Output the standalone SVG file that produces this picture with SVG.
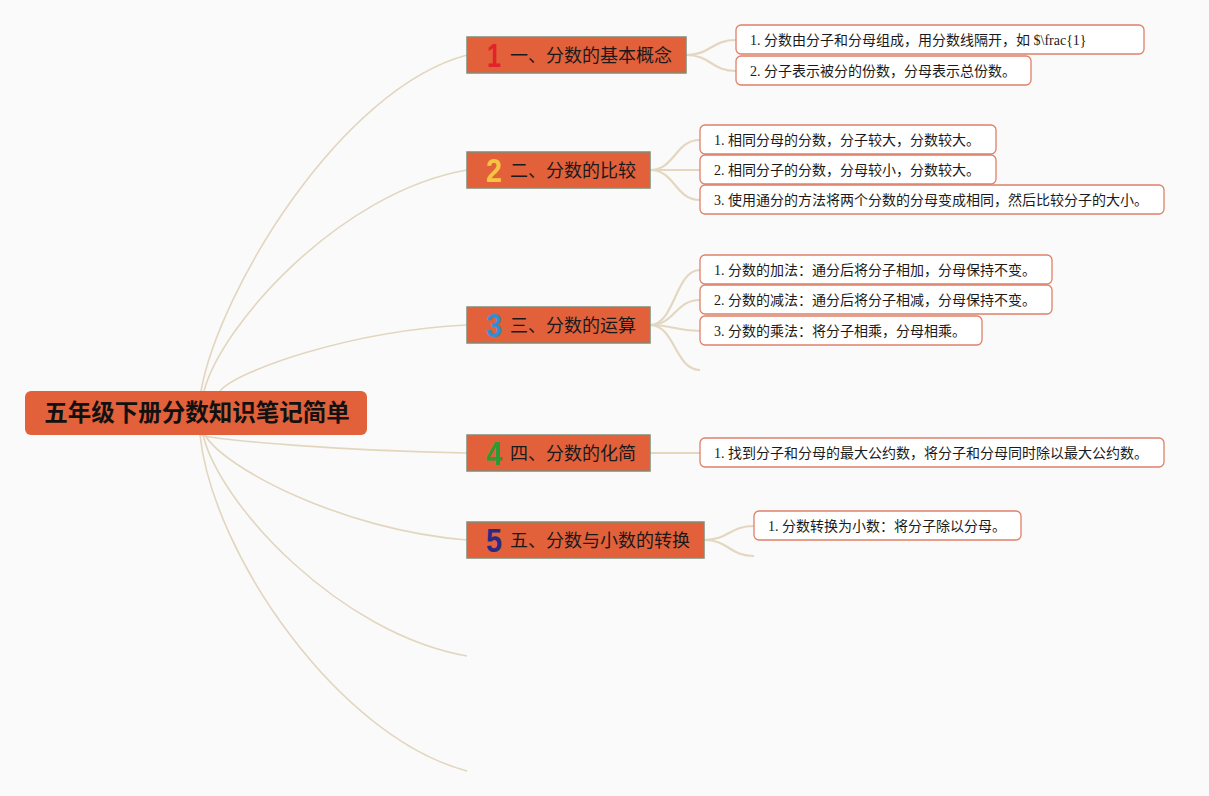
<svg xmlns="http://www.w3.org/2000/svg" width="1209" height="796" viewBox="0 0 1209 796">
<style>
.bg{fill:#fafafa}
.main{fill:none;stroke:#e2d6bf;stroke-width:1.6}
.sub{fill:none;stroke:#e3d7c0;stroke-width:2.2}
.root{fill:#e2603a}
.rootT{font-family:"Noto Sans CJK SC",sans-serif;font-weight:bold;font-size:23.5px;fill:#111;text-anchor:middle}
.br{fill:#e2603a;stroke:#838b76;stroke-width:1.5}
.brT{font-family:"Noto Sans CJK SC",sans-serif;font-size:18px;fill:#1a1a1a}
.num{font-family:"Liberation Sans",sans-serif;font-weight:bold;font-size:34px;text-anchor:middle}
.leaf{fill:#ffffff;stroke:#e08068;stroke-width:1.3}
.leafT{font-family:"Liberation Serif","Noto Sans CJK SC",serif;font-size:14px;fill:#1a1a1a}
</style>
<rect class="bg" x="0" y="0" width="1209" height="796"/>
<g id="connectors">
<path class="main" d="M201,391 C219,291 340,89 467,55"/>
<path class="main" d="M204,391 C222,324 340,192 467,170"/>
<path class="main" d="M220,391 C237,371 348,331 467,325"/>
<path class="main" d="M200,435 C219,440 339,451 467,453"/>
<path class="main" d="M205,435 C223,467 341,530 467,540"/>
<path class="main" d="M203,435 C220,505 340,634 467,656"/>
<path class="main" d="M200,435 C213,555 339,737 467,771"/>
<path class="sub" d="M686,55 C711,55 711,40 736,40"/>
<path class="sub" d="M686,55 C711,55 711,71 736,71"/>
<path class="sub" d="M650,170 C675,170 675,140 700,140"/>
<path class="sub" d="M650,170 L700,170"/>
<path class="sub" d="M650,170 C675,170 675,200 700,200"/>
<path class="sub" d="M650,325 C675,325 675,270 700,270"/>
<path class="sub" d="M650,325 C675,325 675,300 700,300"/>
<path class="sub" d="M650,325 C675,325 675,331 700,331"/>
<path class="sub" d="M650,325 C675,325 675,370 700,370"/>
<path class="sub" d="M650,453 L700,453"/>
<path class="sub" d="M704,540 C729,540 729,526 754,526"/>
<path class="sub" d="M704,540 C729,540 729,556 754,556"/>
</g>
<g id="root">
<rect class="root" x="25" y="391" width="342" height="44" rx="6"/>
<text class="rootT" x="197" y="421">五年级下册分数知识笔记简单</text>
</g>
<g id="b1">
<rect class="br" x="467" y="37" width="219" height="36"/>
<text class="num" x="494" y="67" fill="#e3232b" textLength="14" lengthAdjust="spacingAndGlyphs">1</text>
<text class="brT" x="510" y="61.5">一、分数的基本概念</text>
</g>
<g id="b2">
<rect class="br" x="467" y="152" width="183" height="36"/>
<text class="num" x="494" y="182" fill="#f6c443" textLength="16" lengthAdjust="spacingAndGlyphs">2</text>
<text class="brT" x="510" y="176.5">二、分数的比较</text>
</g>
<g id="b3">
<rect class="br" x="467" y="307" width="183" height="36"/>
<text class="num" x="494" y="337" fill="#2f8fd6" textLength="16" lengthAdjust="spacingAndGlyphs">3</text>
<text class="brT" x="510" y="331.5">三、分数的运算</text>
</g>
<g id="b4">
<rect class="br" x="467" y="435" width="183" height="36"/>
<text class="num" x="494" y="465" fill="#2e9a33" textLength="16" lengthAdjust="spacingAndGlyphs">4</text>
<text class="brT" x="510" y="459.5">四、分数的化简</text>
</g>
<g id="b5">
<rect class="br" x="467" y="522" width="237" height="36"/>
<text class="num" x="494" y="552" fill="#2a2a86" textLength="16" lengthAdjust="spacingAndGlyphs">5</text>
<text class="brT" x="510" y="546.5">五、分数与小数的转换</text>
</g>
<g id="l11">
<rect class="leaf" x="736" y="25" width="408" height="29" rx="5"/>
<text class="leafT" x="750" y="44.5">1. 分数由分子和分母组成，用分数线隔开，如 $\frac{1}</text>
</g>
<g id="l12">
<rect class="leaf" x="736" y="56" width="295" height="29" rx="5"/>
<text class="leafT" x="750" y="75.5">2. 分子表示被分的份数，分母表示总份数。</text>
</g>
<g id="l21">
<rect class="leaf" x="700" y="125" width="296" height="29" rx="5"/>
<text class="leafT" x="714" y="144.5">1. 相同分母的分数，分子较大，分数较大。</text>
</g>
<g id="l22">
<rect class="leaf" x="700" y="155" width="296" height="29" rx="5"/>
<text class="leafT" x="714" y="174.5">2. 相同分子的分数，分母较小，分数较大。</text>
</g>
<g id="l23">
<rect class="leaf" x="700" y="185" width="464" height="29" rx="5"/>
<text class="leafT" x="714" y="204.5">3. 使用通分的方法将两个分数的分母变成相同，然后比较分子的大小。</text>
</g>
<g id="l31">
<rect class="leaf" x="700" y="255" width="352" height="29" rx="5"/>
<text class="leafT" x="714" y="274.5">1. 分数的加法：通分后将分子相加，分母保持不变。</text>
</g>
<g id="l32">
<rect class="leaf" x="700" y="285" width="352" height="29" rx="5"/>
<text class="leafT" x="714" y="304.5">2. 分数的减法：通分后将分子相减，分母保持不变。</text>
</g>
<g id="l33">
<rect class="leaf" x="700" y="316" width="282" height="29" rx="5"/>
<text class="leafT" x="714" y="335.5">3. 分数的乘法：将分子相乘，分母相乘。</text>
</g>
<g id="l41">
<rect class="leaf" x="700" y="438" width="464" height="29" rx="5"/>
<text class="leafT" x="714" y="457.5">1. 找到分子和分母的最大公约数，将分子和分母同时除以最大公约数。</text>
</g>
<g id="l51">
<rect class="leaf" x="754" y="511" width="267" height="29" rx="5"/>
<text class="leafT" x="768" y="530.5">1. 分数转换为小数：将分子除以分母。</text>
</g>
</svg>
